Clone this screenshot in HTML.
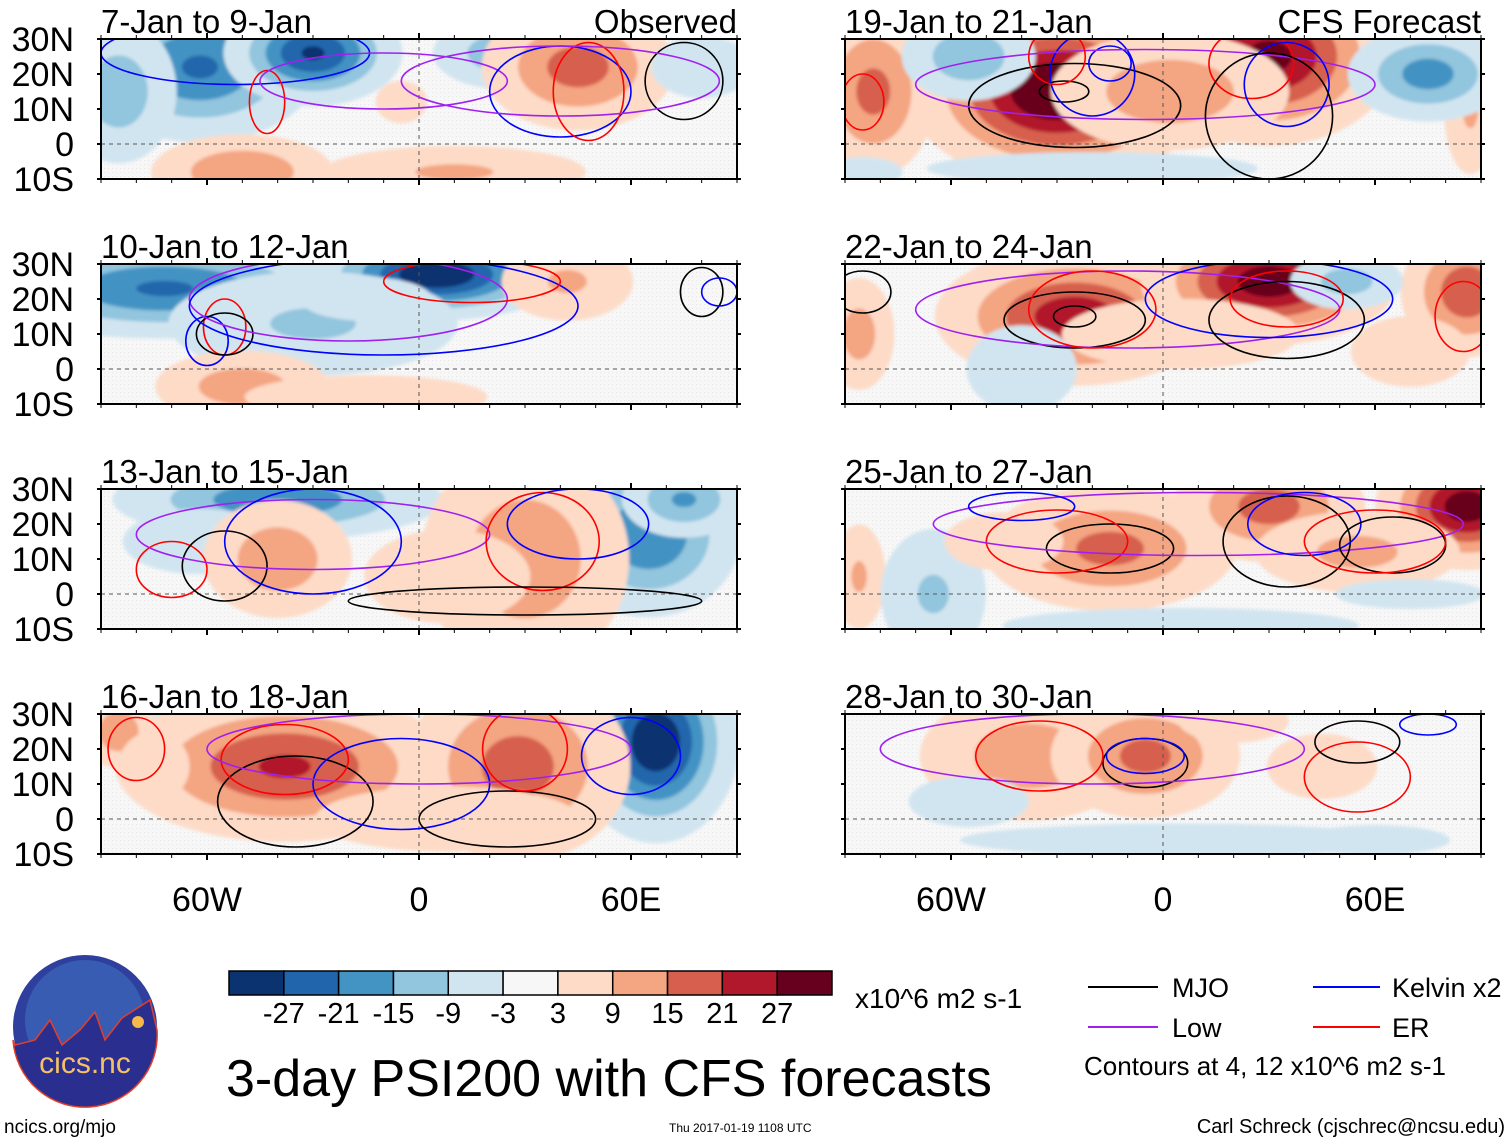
<!DOCTYPE html>
<html><head><meta charset="utf-8"><style>
body{margin:0;background:#fff;}
svg{display:block;font-family:"Liberation Sans",sans-serif;}
</style></head><body>
<svg id="chart" width="1510" height="1142" viewBox="0 0 1510 1142" xmlns="http://www.w3.org/2000/svg">
<defs>
<filter id="soft" x="-20%" y="-20%" width="140%" height="140%"><feGaussianBlur stdDeviation="1.5"/></filter>
<pattern id="stip" width="4" height="4" patternUnits="userSpaceOnUse"><rect width="4" height="4" fill="#f7f7f7"/><rect width="1" height="1" fill="#e6e6e6"/></pattern>
</defs>
<g id="panels"></g>
<g id="bottom-axis"></g>
<g id="colorbar"></g>
<text x="855" y="1008" font-size="28">x10^6 m2 s-1</text>
<text x="226" y="1096" font-size="52">3-day PSI200 with CFS forecasts</text>
<g>
<line x1="1088" y1="987" x2="1158" y2="987" stroke="#000" stroke-width="2"/><text x="1172" y="997" font-size="27">MJO</text>
<line x1="1313" y1="987" x2="1380" y2="987" stroke="#0000ff" stroke-width="2"/><text x="1392" y="997" font-size="27">Kelvin x2</text>
<line x1="1088" y1="1027" x2="1158" y2="1027" stroke="#a020f0" stroke-width="2"/><text x="1172" y="1037" font-size="27">Low</text>
<line x1="1313" y1="1027" x2="1380" y2="1027" stroke="#ff0000" stroke-width="2"/><text x="1392" y="1037" font-size="27">ER</text>
<text x="1084" y="1075" font-size="26">Contours at 4, 12 x10^6 m2 s-1</text>
</g>
<g>
<circle cx="85" cy="1027" r="72" fill="#2f3f9e"/>
<circle cx="85" cy="1020" r="60" fill="#3d6fbf" opacity="0.6"/>
<path d="M15,1045 L35,1040 L50,1020 L62,1045 L80,1030 L95,1012 L105,1040 L122,1018 L150,1000 L157,1030 A72,72 0 0 1 13,1040 Z" fill="#2a2f8f" stroke="#e0402a" stroke-width="1.5"/>
<circle cx="138" cy="1022" r="6" fill="#f5b84a"/>
<text x="85" y="1073" font-size="30" fill="#f5c068" text-anchor="middle">cics.nc</text>
</g>
<text x="4" y="1133" font-size="19">ncics.org/mjo</text>
<text x="669" y="1132" font-size="12">Thu 2017-01-19 1108 UTC</text>
<text x="1505" y="1133" font-size="20" text-anchor="end">Carl Schreck (cjschrec@ncsu.edu)</text>
</svg>
<script>
const levels=[-27,-21,-15,-9,-3,3,9,15,21,27];
const colors=["#0a3370","#2166ac","#4393c3","#92c5de","#d1e5f0","#f7f7f7","#fddbc7","#f4a582","#d6604d","#b2182b","#67001f"];
const latTicks=["30N","20N","10N","0","10S"];
const latVals=[30,20,10,0,-10];
const lonTicks=["60W","0","60E"];
const lonVals=[-60,0,60];
const titles=["7-Jan to 9-Jan","10-Jan to 12-Jan","13-Jan to 15-Jan","16-Jan to 18-Jan","19-Jan to 21-Jan","22-Jan to 24-Jan","25-Jan to 27-Jan","28-Jan to 30-Jan"];
// blobs: [lon, lat, amplitude, rx(deg), ry(deg)]
const blobs0=[[-62,22,-22,14,9],[-30,26,-28,10,6],[-85,15,-13,8,10],[25,26,-14,10,5],[45,22,18,12,8],[-50,-8,15,12,5],[10,-8,10,20,4],[-5,12,5,6,5],[80,22,-9,8,5]];
const blobs1=[[-72,23,-22,22,6],[5,27,-33,14,5],[-30,13,-10,22,8],[-50,-5,13,12,5],[42,25,10,10,6],[-15,-8,7,22,4],[-15,20,-7,12,4]];
const blobs2=[[-40,27,-20,20,5],[65,17,-21,11,10],[-62,15,-7,14,6],[-40,10,14,10,8],[30,10,14,14,15],[8,5,8,14,8],[75,27,-16,8,5]];
const blobs3=[[-50,26,-21,14,5],[67,22,-33,9,11],[-38,15,22,20,9],[28,15,18,14,12],[-85,25,14,5,5],[8,0,7,24,6],[-75,15,8,6,6]];
const blobs4=[[-30,15,34,16,10],[30,25,29,14,10],[-82,15,17,8,11],[2,15,14,16,8],[87,10,10,4,10],[-55,25,-14,9,6],[75,20,-18,10,6],[-20,-7,-7,30,3],[-85,-8,-6,8,3]];
const blobs5=[[-25,15,25,16,8],[30,25,31,14,7],[86,22,20,8,8],[-86,10,12,5,8],[52,25,-12,8,4],[-40,0,-7,10,8],[5,10,8,20,6],[70,5,8,10,6]];
const blobs6=[[-15,13,17,16,8],[30,25,18,12,7],[86,25,31,10,7],[55,12,11,15,6],[-86,5,10,4,8],[-65,0,-10,8,10],[5,-9,-8,30,3],[70,0,-6,15,3],[-45,15,8,10,5]];
const blobs7=[[-38,18,13,15,9],[-5,18,17,12,8],[45,15,7,10,6],[5,-6,-7,40,3],[-55,5,-5,14,6],[60,-6,-6,15,3],[20,28,7,10,4]];
const panelBlobs=[blobs0,blobs1,blobs2,blobs3,blobs4,blobs5,blobs6,blobs7];
// contour rings: [type, lon, lat, rx, ry]  type: m=MJO,k=Kelvin,l=Low,e=ER
const rings0=[["k",-52,26,38,9],["e",-43,12,5,9],["l",-10,18,35,8],["k",40,15,20,13],["e",48,15,10,14],["m",75,18,11,11],["l",40,18,45,10]];
const rings1=[["e",-55,12,6,8],["k",-60,8,6,7],["m",-55,10,8,6],["l",-20,20,45,12],["k",-10,18,55,14],["e",15,25,25,6],["m",80,22,6,7],["k",85,22,5,4]];
const rings2=[["e",-70,7,10,8],["m",-55,8,12,10],["l",-30,17,50,10],["k",-30,15,25,15],["e",35,15,16,14],["m",30,-2,50,4],["k",45,20,20,10]];
const rings3=[["m",-35,5,22,13],["e",-38,17,18,10],["k",-5,10,25,13],["l",0,20,60,10],["m",25,0,25,8],["e",30,20,12,12],["k",60,18,14,11],["e",-80,20,8,9]];
const rings4=[["m",-25,11,30,12],["m",-28,15,7,3],["k",-20,20,12,12],["k",-15,23,6,5],["l",-5,17,65,10],["e",-30,25,8,8],["e",25,23,12,10],["k",35,17,12,12],["m",30,8,18,18],["e",-85,12,6,8]];
const rings5=[["m",-25,14,20,8],["m",-25,15,6,3],["l",-10,17,60,11],["e",-20,17,18,11],["k",30,20,35,11],["m",35,14,22,11],["e",35,20,16,8],["e",85,15,8,10],["m",-85,22,8,6]];
const rings6=[["m",-15,13,18,7],["e",-30,15,20,9],["l",10,20,75,9],["k",-40,25,15,4],["m",35,15,18,13],["k",40,20,16,9],["m",65,14,15,8],["e",60,15,20,9]];
const rings7=[["m",-5,16,12,7],["k",-5,18,11,5],["l",-20,20,60,10],["e",-35,18,18,10],["e",55,12,15,10],["m",55,22,12,6],["k",75,27,8,3]];
const panelRings=[rings0,rings1,rings2,rings3,rings4,rings5,rings6,rings7];
const lineColor={m:"#000000",k:"#0000ff",l:"#a020f0",e:"#ff0000"};
const NS="http://www.w3.org/2000/svg";
const lonMin=-90,lonMax=90,latMin=-10,latMax=30;
const colX=[101,845],rowY=[39,264,489,714],PW=636,PH=140,SPREAD=1.2;
function mk(tag,attrs,parent){const e=document.createElementNS(NS,tag);for(const k in attrs)e.setAttribute(k,attrs[k]);parent.appendChild(e);return e;}
function colorFor(v){let i=0;while(i<levels.length&&v>levels[i])i++;return colors[i];}
const panelsG=document.getElementById('panels');
for(let p=0;p<8;p++){
  const col=p<4?0:1,row=p%4;
  const x0=colX[col],y0=rowY[row];
  const xs=lon=>x0+(lon-lonMin)/(lonMax-lonMin)*PW;
  const ys=lat=>y0+(latMax-lat)/(latMax-latMin)*PH;
  const g=mk('g',{},panelsG);
  
  
  const cid='clip'+p;
  const cp=mk('clipPath',{id:cid},g);mk('rect',{x:x0,y:y0,width:PW,height:PH},cp);
  const inner=mk('g',{'clip-path':'url(#'+cid+')'},g);
  mk('rect',{x:x0,y:y0,width:PW,height:PH,fill:'url(#stip)'},inner);
  const fg=mk('g',{filter:'url(#soft)'},inner);
  panelBlobs[p].forEach(b=>{
    const amp=b[2],a=Math.abs(amp);
    const ths=levels.filter(t=>t*Math.sign(amp)>0).map(Math.abs).sort((m,n)=>m-n);
    ths.forEach(t=>{
      if(t>=a)return;
      const r=Math.sqrt(2*Math.log(a/t))*SPREAD;
      const c=colorFor(Math.sign(amp)*(t+0.1));
      const el=mk('ellipse',{cx:xs(b[0]),cy:ys(b[1]),rx:b[3]*r*PW/180,ry:b[4]*r*PH/40,fill:c},fg);
      
      
    });
  });
  mk('line',{x1:x0,y1:ys(0),x2:x0+PW,y2:ys(0),stroke:'#555','stroke-dasharray':'4,4','stroke-width':1},inner);
  mk('line',{x1:xs(0),y1:y0,x2:xs(0),y2:y0+PH,stroke:'#555','stroke-dasharray':'4,4','stroke-width':1},inner);
  panelRings[p].forEach(r=>{
    const el=mk('ellipse',{cx:xs(r[1]),cy:ys(r[2]),rx:r[3]*PW/180,ry:r[4]*PH/40,fill:'none',stroke:lineColor[r[0]],'stroke-width':1.6},inner);
    
    
  });
  mk('rect',{x:x0,y:y0,width:PW,height:PH,fill:'none',stroke:'#000','stroke-width':2},g);
  for(let lon=-90;lon<=90;lon+=10){mk('line',{x1:xs(lon),y1:y0,x2:xs(lon),y2:y0-4,stroke:'#000','stroke-width':1},g);mk('line',{x1:xs(lon),y1:y0+PH,x2:xs(lon),y2:y0+PH+4,stroke:'#000','stroke-width':1},g);}
  lonVals.forEach(l=>{mk('line',{x1:xs(l),y1:y0-6,x2:xs(l),y2:y0,stroke:'#000','stroke-width':2},g);mk('line',{x1:xs(l),y1:y0+PH,x2:xs(l),y2:y0+PH+6,stroke:'#000','stroke-width':2},g);});
  latVals.forEach(l=>{mk('line',{x1:x0-4,y1:ys(l),x2:x0,y2:ys(l),stroke:'#000','stroke-width':2},g);mk('line',{x1:x0+PW,y1:ys(l),x2:x0+PW+4,y2:ys(l),stroke:'#000','stroke-width':2},g);});
  const t=mk('text',{x:x0,y:y0-6,'font-size':33},g);t.textContent=titles[p];
  
  
  if(p===0){const o=mk('text',{x:x0+PW,y:y0-6,'font-size':33,'text-anchor':'end'},g);o.textContent='Observed';}
  if(p===4){const o=mk('text',{x:x0+PW,y:y0-6,'font-size':33,'text-anchor':'end'},g);o.textContent='CFS Forecast';}
  if(col===0){latTicks.forEach((s,i)=>{const tt=mk('text',{x:74,y:ys(latVals[i])+12,'font-size':34,'text-anchor':'end'},g);tt.textContent=s;
    
    });}
}
const ba=document.getElementById('bottom-axis');
colX.forEach(x0=>{lonTicks.forEach((s,i)=>{const x=x0+(lonVals[i]-lonMin)/(lonMax-lonMin)*PW;const t=mk('text',{x:x,y:911,'font-size':34,'text-anchor':'middle'},ba);t.textContent=s;
  
  });});
const cb=document.getElementById('colorbar');
const cbx=229,cbw=603/colors.length;
colors.forEach((c,i)=>{const r=mk('rect',{x:cbx+i*cbw,y:971,width:cbw,height:24,fill:c,stroke:'#000','stroke-width':1.5},cb);
  
  });
levels.forEach((v,i)=>{const t=mk('text',{x:cbx+(i+1)*cbw,y:1023,'font-size':29,'text-anchor':'middle'},cb);t.textContent=v;
  
  });
</script>
</body></html>
